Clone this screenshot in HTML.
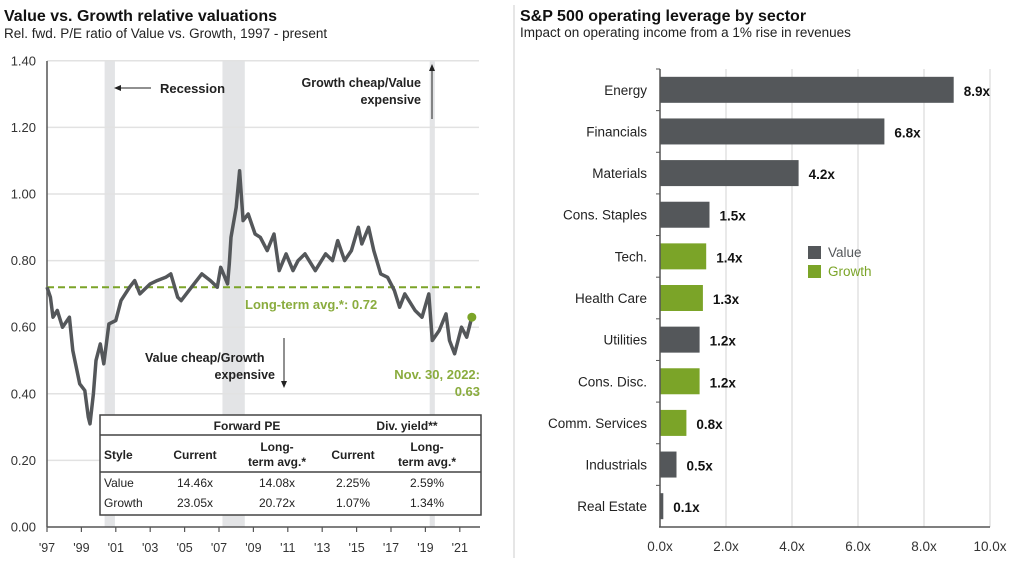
<!DOCTYPE html>
<html><head><meta charset="utf-8"><style>
body{margin:0;background:#fff;width:1027px;height:563px;overflow:hidden;font-family:"Liberation Sans",Arial,sans-serif}
svg{display:block}
text{font-family:"Liberation Sans",Arial,sans-serif}
</style></head><body>
<svg id="s" width="1027" height="563" viewBox="0 0 1027 563">
<text x="4" y="21" font-size="16" font-weight="bold" fill="#111">Value vs. Growth relative valuations</text>
<text x="4" y="38" font-size="13.5" fill="#222">Rel. fwd. P/E ratio of Value vs. Growth, 1997 - present</text>
<text x="520" y="21" font-size="16" font-weight="bold" fill="#111">S&amp;P 500 operating leverage by sector</text>
<text x="520" y="37" font-size="13.5" fill="#222">Impact on operating income from a 1% rise in revenues</text>
<line x1="514" y1="5" x2="514" y2="558" stroke="#ccc" stroke-width="1"/>
<g id="left"></g>
<g id="right"></g>
</svg>
<script>
const NS='http://www.w3.org/2000/svg';
function mk(tag,attrs,parent,txt){const e=document.createElementNS(NS,tag);for(const k in attrs)e.setAttribute(k,attrs[k]);if(txt!==undefined)e.textContent=txt;parent.appendChild(e);return e;}

// ---- Left chart data ----
const years=[1997.0,1997.2,1997.35,1997.6,1997.9,1998.3,1998.5,1998.9,1999.2,1999.4,1999.5,1999.7,1999.85,2000.1,2000.3,2000.6,2001.0,2001.3,2001.8,2002.1,2002.4,2003.0,2003.4,2003.9,2004.2,2004.6,2004.8,2005.4,2006.0,2006.5,2006.9,2007.1,2007.5,2007.6,2007.7,2008.0,2008.2,2008.4,2008.7,2009.1,2009.4,2009.8,2010.2,2010.5,2010.9,2011.3,2011.6,2012.0,2012.6,2013.2,2013.6,2013.9,2014.3,2014.7,2015.1,2015.3,2015.7,2016.0,2016.4,2016.8,2017.2,2017.5,2017.8,2018.4,2018.8,2019.2,2019.4,2019.8,2020.2,2020.4,2020.7,2021.1,2021.4,2021.7];
const relPE=[0.72,0.69,0.63,0.65,0.60,0.63,0.53,0.43,0.41,0.33,0.31,0.40,0.50,0.55,0.49,0.61,0.62,0.68,0.72,0.74,0.70,0.73,0.74,0.75,0.76,0.69,0.68,0.72,0.76,0.74,0.72,0.78,0.73,0.79,0.87,0.96,1.07,0.92,0.94,0.88,0.87,0.83,0.88,0.77,0.82,0.77,0.80,0.82,0.77,0.82,0.80,0.86,0.80,0.83,0.90,0.85,0.90,0.83,0.76,0.75,0.71,0.66,0.70,0.65,0.63,0.70,0.56,0.59,0.64,0.56,0.52,0.60,0.57,0.63];
const yTicks=[0,0.2,0.4,0.6,0.8,1.0,1.2,1.4];
const xTickYears=[1997,1999,2001,2003,2005,2007,2009,2011,2013,2015,2017,2019,2021];
const xTickLabels=["'97","'99","'01","'03","'05","'07","'09","'11","'13","'15","'17","'19","'21"];
const recessions=[[2000.35,2000.95],[2007.2,2008.5],[2019.25,2019.55]];
const longTermAvg=0.72;

const L=document.getElementById('left');
const X=y=>47+(y-1997)*17.2;
const Y=v=>527-v*333;
recessions.forEach(r=>{const e=mk('rect',{x:X(r[0]),y:61,width:X(r[1])-X(r[0]),height:466,fill:'#e3e4e6'},L);

});
yTicks.forEach(t=>{
 if(t>0){const g=mk('line',{x1:47,x2:479,y1:Y(t),y2:Y(t),stroke:'#e2e2e2','stroke-width':1.5},L);
 
 }
 const tx=mk('text',{x:36,y:Y(t)+4.5,'font-size':13,'text-anchor':'end',fill:'#333'},L,t.toFixed(2));
 
 
});
mk('line',{x1:47,x2:47,y1:61,y2:527,stroke:'#555','stroke-width':1.5,},L);
mk('line',{x1:47,x2:480,y1:527,y2:527,stroke:'#555','stroke-width':1.5,},L);
xTickYears.forEach((yr,i)=>{
 const tk=mk('line',{x1:X(yr),x2:X(yr),y1:527,y2:532,stroke:'#555','stroke-width':1.2},L);
 
 
 const tx=mk('text',{x:X(yr),y:552,'font-size':12.5,'text-anchor':'middle',fill:'#333'},L,xTickLabels[i]);
 
 
});
mk('line',{x1:47,x2:480,y1:Y(longTermAvg),y2:Y(longTermAvg),stroke:'#7ba428','stroke-width':2,'stroke-dasharray':'7,4',},L);
let d='';years.forEach((yr,i)=>{d+=(i?'L':'M')+X(yr).toFixed(1)+','+Y(relPE[i]).toFixed(1);});
mk('path',{d:d,fill:'none',stroke:'#54575a','stroke-width':3.5,'stroke-linejoin':'round',},L);
const last=years.length-1;
mk('circle',{cx:X(years[last]),cy:Y(relPE[last]),r:4.5,fill:'#7ba428',},L);
mk('text',{x:160,y:93,'font-size':13,'font-weight':'bold',fill:'#222',},L,'Recession');
mk('line',{x1:151,x2:120,y1:88,y2:88,stroke:'#222','stroke-width':1,},L);
mk('path',{d:'M114,88 L121,85 L121,91 Z',fill:'#222',},L);
mk('text',{x:421,y:87,'font-size':12.5,'font-weight':'bold','text-anchor':'end',fill:'#222',},L,'Growth cheap/Value');
mk('text',{x:421,y:104,'font-size':12.5,'font-weight':'bold','text-anchor':'end',fill:'#222',},L,'expensive');
mk('line',{x1:432,x2:432,y1:119,y2:70,stroke:'#222','stroke-width':1,},L);
mk('path',{d:'M432,64 L429,71 L435,71 Z',fill:'#222',},L);
mk('text',{x:245,y:309,'font-size':13,'font-weight':'bold',fill:'#8aac3e',},L,'Long-term avg.*:  0.72');
mk('text',{x:145,y:362,'font-size':12.5,'font-weight':'bold',fill:'#222',},L,'Value cheap/Growth');
mk('text',{x:275,y:379,'font-size':12.5,'font-weight':'bold','text-anchor':'end',fill:'#222',},L,'expensive');
mk('line',{x1:284,x2:284,y1:338,y2:382,stroke:'#222','stroke-width':1,},L);
mk('path',{d:'M284,388 L281,381 L287,381 Z',fill:'#222',},L);
mk('text',{x:480,y:379,'font-size':13,'font-weight':'bold','text-anchor':'end',fill:'#8aac3e',},L,'Nov. 30, 2022:');
mk('text',{x:480,y:396,'font-size':13,'font-weight':'bold','text-anchor':'end',fill:'#8aac3e',},L,'0.63');
mk('rect',{x:100,y:415,width:381,height:100,fill:'#fff',stroke:'#444','stroke-width':1.5,},L);
mk('line',{x1:100,x2:481,y1:435,y2:435,stroke:'#444','stroke-width':1.5,},L);
mk('line',{x1:100,x2:481,y1:472,y2:472,stroke:'#444','stroke-width':1.5,},L);
const tcells=[[247,430,'Forward PE',1],[407,430,'Div. yield**',1],[104,459,'Style',1,'start'],[195,459,'Current',1],[277,451,'Long-',1],[277,466,'term avg.*',1],[353,459,'Current',1],[427,451,'Long-',1],[427,466,'term avg.*',1],
[104,487,'Value',0,'start'],[195,487,'14.46x',0],[277,487,'14.08x',0],[353,487,'2.25%',0],[427,487,'2.59%',0],
[104,507,'Growth',0,'start'],[195,507,'23.05x',0],[277,507,'20.72x',0],[353,507,'1.07%',0],[427,507,'1.34%',0]];
tcells.forEach(c=>{const e=mk('text',{x:c[0],y:c[1],'font-size':12,'font-weight':c[3]?'bold':'normal','text-anchor':c[4]||'middle',fill:'#222'},L,c[2]);

});

// ---- Right chart data ----
const sectors=['Energy','Financials','Materials','Cons. Staples','Tech.','Health Care','Utilities','Cons. Disc.','Comm. Services','Industrials','Real Estate'];
const leverage=[8.9,6.8,4.2,1.5,1.4,1.3,1.2,1.2,0.8,0.5,0.1];
const styleGroup=['Value','Value','Value','Value','Growth','Growth','Value','Growth','Growth','Value','Value'];
const xTicksR=[0,2,4,6,8,10];
const R=document.getElementById('right');
const XR=v=>660+v*33;
const plotTop=69,plotBot=527;
const band=(plotBot-plotTop)/sectors.length;
const YR=i=>plotTop+band*i;
xTicksR.forEach(t=>{
 if(t>0){const g=mk('line',{x1:XR(t),x2:XR(t),y1:plotTop,y2:plotBot,stroke:'#e2e2e2','stroke-width':1.5},R);
 
 }
 const tx=mk('text',{x:XR(t),y:551,'font-size':13.5,'text-anchor':'middle',fill:'#333'},R,t.toFixed(1)+'x');
 
 
});
sectors.forEach((s,i)=>{
 const col=styleGroup[i]==='Growth'?'#7ba428':'#54575a';
 const b=mk('rect',{x:XR(0),y:YR(i)+band/2-13,width:XR(leverage[i])-XR(0),height:26,fill:col},R);
 
 
 const l=mk('text',{x:647,y:YR(i)+band/2+5,'font-size':13.5,'text-anchor':'end',fill:'#222'},R,s);
 
 
 const v=mk('text',{x:XR(leverage[i])+10,y:YR(i)+band/2+6,'font-size':13.5,'font-weight':'bold',fill:'#111'},R,leverage[i].toFixed(1)+'x');
 
 
 const tk=mk('line',{x1:656,x2:660,y1:YR(i),y2:YR(i),stroke:'#555','stroke-width':1},R);
 
 
});
mk('line',{x1:660,x2:660,y1:plotTop,y2:plotBot,stroke:'#555','stroke-width':1.5,},R);
mk('line',{x1:659,x2:990,y1:plotBot,y2:plotBot,stroke:'#555','stroke-width':1.5,},R);
mk('rect',{x:808,y:246,width:13,height:13,fill:'#54575a',},R);
mk('text',{x:828,y:257,'font-size':13.5,fill:'#54575a',},R,'Value');
mk('rect',{x:808,y:265,width:13,height:13,fill:'#7ba428',},R);
mk('text',{x:828,y:276,'font-size':13.5,fill:'#7ba428',},R,'Growth');
</script>
</body></html>
